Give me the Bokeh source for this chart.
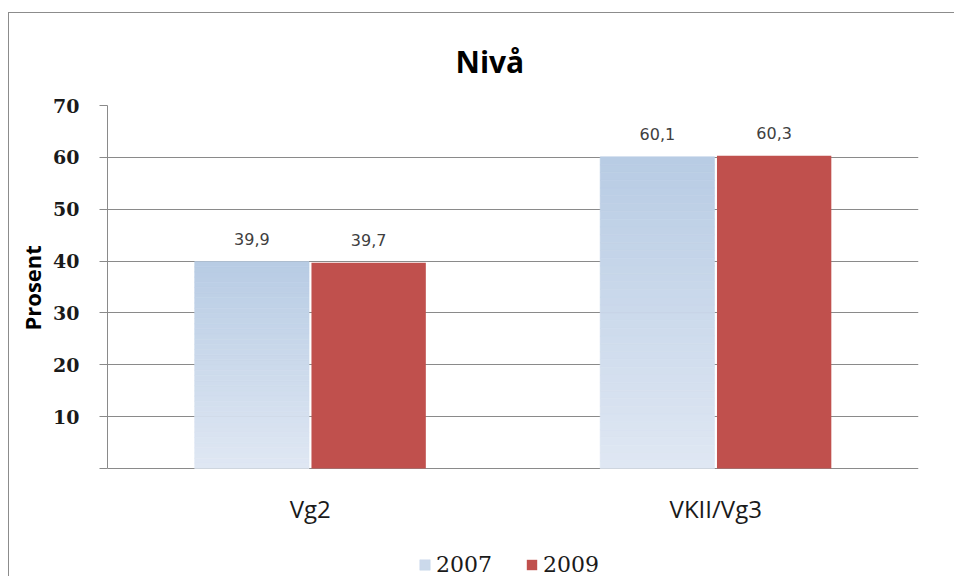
import numpy as np
from bokeh.plotting import figure
from bokeh.models import (FactorRange, FixedTicker, Legend, LegendItem,
                          ColumnDataSource, LabelSet, Title)
from bokeh.transform import dodge
from bokeh.core.properties import value
from bokeh.embed import file_html
from bokeh.resources import INLINE

# ---- data ----
categories = ["Vg2", "VKII/Vg3"]
years = ["2007", "2009"]
values_2007 = [39.9, 60.1]
values_2009 = [39.7, 60.3]
labels_2007 = ["39,9", "60,1"]
labels_2009 = ["39,7", "60,3"]
y_ticks = [0, 10, 20, 30, 40, 50, 60, 70]
y_max = 70

# ---- styles / layout ----
C_TOP = np.array([0xb8, 0xcc, 0xe4])
C_BOT = np.array([0xdf, 0xe7, 0xf3])
RED = "#c0504d"
GRID = "#8a8a8a"
N_SLICES = 40
DODGE = 0.144
BAR_W = 0.282
W, H = 946, 564
TOP_PX = 92           # space above plotting area
AXIS_PX = 363         # height of 0..70 in pixels
BELOW_PX = H - TOP_PX - AXIS_PX   # room below the zero line (labels + legend)
y_start = -y_max * BELOW_PX / AXIS_PX

p = figure(x_range=FactorRange(*categories), y_range=(y_start, y_max),
           width=W, height=H, output_backend="svg", toolbar_location=None,
           x_axis_location=None,
           min_border_left=98, min_border_right=37, min_border_top=TOP_PX,
           min_border_bottom=0, title="Nivå")
p.styles = {"margin-left": "9px", "margin-top": "13px",
            "box-shadow": "-1px -1px 0px 0px #8c8c8c"}
p.outline_line_color = None
p.background_fill_color = "white"
p.border_fill_color = "white"

# gradient bars for 2007 (slices derived from the data values)
sx, sb, st, sc = [], [], [], []
for cat, v in zip(categories, values_2007):
    for k in range(N_SLICES):
        f = k / (N_SLICES - 1)
        col = C_BOT + (C_TOP - C_BOT) * f
        sx.append(cat)
        sb.append(v * k / N_SLICES)
        st.append(v * (k + 1) / N_SLICES)
        sc.append("#%02x%02x%02x" % tuple(int(round(c)) for c in col))
src07 = ColumnDataSource(dict(cat=sx, bottom=sb, top=st, color=sc))
r07 = p.vbar(x=dodge("cat", -DODGE, range=p.x_range), bottom="bottom", top="top",
             width=BAR_W, source=src07, fill_color="color", line_color="color",
             line_width=0.6)

src09 = ColumnDataSource(dict(cat=categories, v=values_2009))
r09 = p.vbar(x=dodge("cat", DODGE, range=p.x_range), top="v", width=BAR_W,
             source=src09, fill_color=RED, line_color=None)

# value labels
lab = ColumnDataSource(dict(cat=categories, v07=values_2007, v09=values_2009,
                            l07=labels_2007, l09=labels_2009,
                            zero=[0] * len(categories)))
for col_v, col_l, d in (("v07", "l07", -DODGE), ("v09", "l09", DODGE)):
    p.add_layout(LabelSet(x=dodge("cat", d, range=p.x_range), y=col_v, text=col_l,
                          source=lab, y_offset=17, text_align="center",
                          text_baseline="alphabetic", text_font=value("DejaVu Sans"),
                          text_font_size="16px", text_color="#404040"))

# category labels (x axis)
p.add_layout(LabelSet(x="cat", y="zero", text="cat", source=lab, y_offset=-40,
                      text_align="center", text_baseline="middle",
                      text_font=value("Open Sans"), text_font_size="24px",
                      text_color="#1a1a1a"))

# title
p.title.text_font = "Open Sans"
p.title.text_font_style = "bold"
p.title.text_font_size = "30px"
p.title.align = "left"
p.title.offset = 348
p.title.standoff = 47
p.title.text_color = "#000000"

# y axis
p.yaxis.ticker = FixedTicker(ticks=y_ticks)
p.yaxis.bounds = (0, y_max)
p.yaxis.major_label_overrides = {0: ""}
p.yaxis.major_label_text_font = "DejaVu Serif"
p.yaxis.major_label_text_font_style = "bold"
p.yaxis.major_label_text_font_size = "19px"
p.yaxis.major_label_text_color = "#1a1a1a"
p.yaxis.major_tick_out = 8
p.yaxis.major_tick_in = 0
p.yaxis.minor_tick_line_color = None
p.yaxis.major_label_standoff = 20
p.yaxis.axis_line_color = GRID
p.yaxis.major_tick_line_color = GRID

# y axis title, centred on the 0..70 span
p.add_layout(Title(text="Prosent", align="left", offset=247, standoff=8,
                   text_font="Open Sans", text_font_style="bold",
                   text_font_size="22px", text_color="#000000"), "left")

p.xgrid.grid_line_color = None
p.ygrid.grid_line_color = GRID

# legend
legend = Legend(items=[LegendItem(label=years[0], renderers=[r07], index=N_SLICES // 2),
                       LegendItem(label=years[1], renderers=[r09])],
                orientation="horizontal", location=(311, 0),
                glyph_width=13, glyph_height=13, label_standoff=5, spacing=33,
                padding=0, margin=0, border_line_color=None,
                background_fill_alpha=0, label_text_font="DejaVu Serif",
                label_text_font_size="22px", label_text_color="#1a1a1a")
p.add_layout(legend)

open("out.html", "w").write(file_html(p, INLINE))
